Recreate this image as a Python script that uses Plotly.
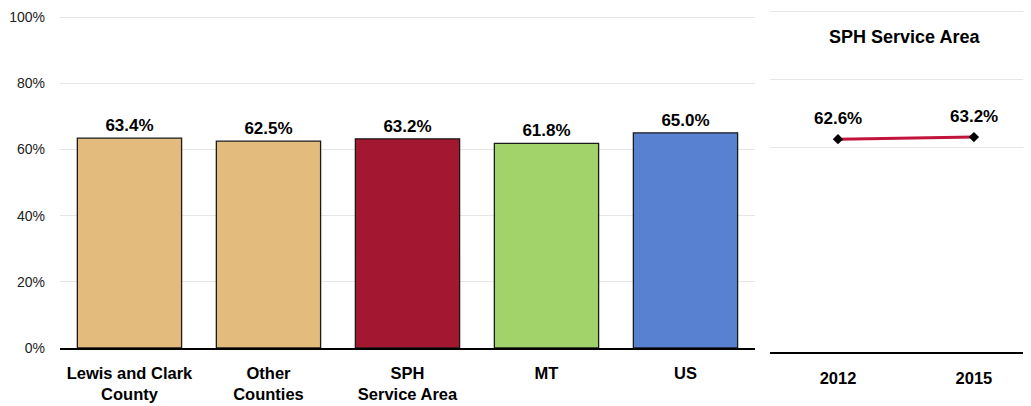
import plotly.graph_objects as go
from plotly.subplots import make_subplots

# left panel: current rates
regions = ["Lewis and Clark<br>County", "Other<br>Counties", "SPH<br>Service Area", "MT", "US"]
rates = [63.4, 62.5, 63.2, 61.8, 65.0]
bar_colors = ["#E3BB7C", "#E3BB7C", "#A31830", "#A2D36A", "#5882D1"]

# right panel: trend for the service area
years = ["2012", "2015"]
trend = [62.6, 63.2]

y_ticks = [0, 20, 40, 60, 80, 100]
y_tick_text = ["0%", "20%", "40%", "60%", "80%", "100%"]

FONT = "Liberation Sans, Arial, sans-serif"

fig = make_subplots(rows=1, cols=2)

fig.add_trace(go.Bar(x=regions, y=rates,
                     marker=dict(color=bar_colors, line=dict(color="#1a1a1a", width=1.3)),
                     width=0.75,
                     text=["{:.1f}%".format(v) for v in rates],
                     texttemplate="<b>%{text}</b>",
                     textposition="outside",
                     textfont=dict(family=FONT, size=17, color="black"),
                     cliponaxis=False,
                     showlegend=False), row=1, col=1)

fig.add_trace(go.Scatter(x=years, y=trend,
                         mode="lines+markers",
                         line=dict(color="#C0143C", width=3),
                         marker=dict(symbol="diamond", size=8, color="black"),
                         cliponaxis=False,
                         showlegend=False), row=1, col=2)

# value labels over the trend points (category index on x2)
for i, v in enumerate(trend):
    fig.add_annotation(x=i, y=v, xref="x2", yref="y2", yshift=21,
                       text="<b>{:.1f}%</b>".format(v), showarrow=False,
                       font=dict(family=FONT, size=17, color="black"))

fig.update_xaxes(domain=[0.0508, 0.7302], row=1, col=1, automargin=False,
                 type="category",
                 showline=True, linecolor="black", linewidth=1.5,
                 tickvals=regions, ticktext=["<b>" + r + "</b>" for r in regions],
                 tickfont=dict(family=FONT, size=16.5, color="black"),
                 ticks="", ticklabelstandoff=9)
fig.update_yaxes(domain=[0.1457, 0.9857], row=1, col=1, automargin=False,
                 range=[0, 101], tickvals=y_ticks, ticktext=y_tick_text,
                 showgrid=True, gridcolor="#E6E6E6", gridwidth=1,
                 zeroline=False, ticks="", ticklabelstandoff=14,
                 ticklabeloverflow="allow",
                 tickfont=dict(family=FONT, size=14, color="#222"))

fig.update_xaxes(domain=[0.7449, 1.0], row=1, col=2, automargin=False,
                 type="category", range=[-0.5, 1.42],
                 showline=True, linecolor="black", linewidth=1.5,
                 tickvals=years, ticktext=["<b>" + y + "</b>" for y in years],
                 tickfont=dict(family=FONT, size=16.5, color="black"),
                 ticks="", ticklabelstandoff=10)
fig.update_yaxes(domain=[0.1357, 0.9985], row=1, col=2, automargin=False,
                 range=[0, 101], tickvals=[60, 80, 100],
                 showticklabels=False, showgrid=True, gridcolor="#E6E6E6",
                 zeroline=False, ticks="")

fig.add_annotation(text="<b>SPH Service Area</b>", x=0.8768, y=0.927,
                   xref="paper", yref="paper", xanchor="center", yanchor="middle",
                   showarrow=False,
                   font=dict(family=FONT, size=18, color="black"))

fig.update_layout(width=1023, height=398,
                  margin=dict(l=0, r=0, t=0, b=0),
                  plot_bgcolor="white", paper_bgcolor="white",
                  font=dict(family=FONT, color="black"))

fig.write_html("out.html")
